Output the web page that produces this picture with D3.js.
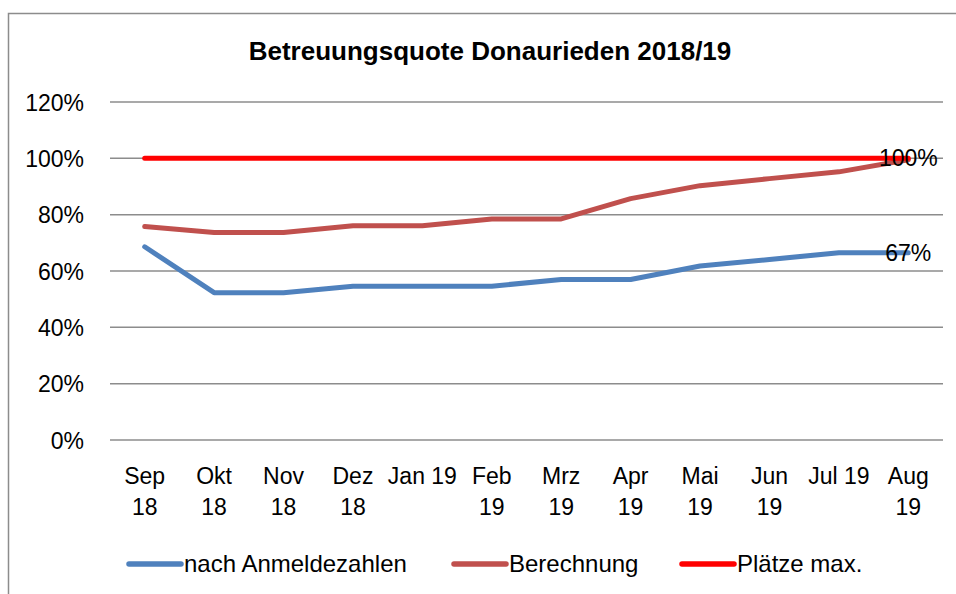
<!DOCTYPE html>
<html><head><meta charset="utf-8">
<script src="https://cdn.jsdelivr.net/npm/d3@7"></script>
<style>body{margin:0;background:#fff}svg{display:block}text{font-family:"Liberation Sans",Arial,sans-serif;fill:#000}</style>
</head><body><svg id="c" width="956" height="594"></svg>
<script>
const categories = ["Sep 18","Okt 18","Nov 18","Dez 18","Jan 19","Feb 19","Mrz 19","Apr 19","Mai 19","Jun 19","Jul 19","Aug 19"];
const anmeldezahlen = [0.686,0.523,0.523,0.546,0.546,0.546,0.570,0.570,0.618,0.641,0.665,0.665];
const berechnung = [0.758,0.737,0.737,0.761,0.761,0.785,0.785,0.857,0.903,0.928,0.952,0.995];
const plaetzeMax = [1,1,1,1,1,1,1,1,1,1,1,1];
const yTicks = [0,0.2,0.4,0.6,0.8,1.0,1.2];
const seriesNames = ["nach Anmeldezahlen","Berechnung","Plätze max."];
const colors = ["#4f81bd","#c0504d","#ff0000"];
const title = "Betreuungsquote Donaurieden 2018/19";

const svg = d3.select("#c");
svg.append("path").attr("d","M8.5,594 V13.5 H956").attr("fill","none").attr("stroke","#8c8c8c").attr("stroke-width",1.5);

const x = d3.scaleBand().domain(categories).range([110,943]);
const y = d3.scaleLinear().domain([0,1.2]).range([440,102]);

svg.append("text").attr("x",490).attr("y",60).attr("text-anchor","middle")
  .style("font-weight","bold").style("font-size","26px").text(title);

const grid = svg.append("g");
grid.selectAll("line").data(yTicks).join("line")
  .attr("x1",110).attr("x2",943).attr("y1",d=>y(d)).attr("y2",d=>y(d))
  .attr("stroke","#8c8c8c").attr("stroke-width",1.5);

const yAxis = svg.append("g").attr("transform","translate(110,0)")
  .call(d3.axisLeft(y).tickValues(yTicks).tickFormat(d3.format(".0%")).tickSize(0).tickPadding(26));
yAxis.select(".domain").remove();
yAxis.selectAll("text").style("font-size","23px").style("font-family","Liberation Sans, Arial, sans-serif").attr("dy","0.35em");

const xAxis = svg.append("g").attr("transform","translate(0,440)").call(d3.axisBottom(x).tickSize(0).tickFormat(""));
xAxis.select(".domain").remove();
xAxis.selectAll(".tick").each(function(d){
  const parts = d.split(" ");
  const g = d3.select(this);
  const lines = (d==="Jan 19"||d==="Jul 19") ? [d] : parts;
  g.selectAll("text.lbl").data(lines).join("text").attr("class","lbl")
   .attr("text-anchor","middle").attr("y",(t,i)=>44+i*31)
   .style("font-size","23px").text(t=>t);
});

const line = d3.line().x((d,i)=>x(categories[i])+x.bandwidth()/2).y(d=>y(d));
const allSeries = [anmeldezahlen,berechnung,plaetzeMax];
allSeries.forEach((s,k)=>{
  svg.append("path").datum(s).attr("d",line).attr("fill","none")
    .attr("stroke",colors[k]).attr("stroke-width",5).attr("stroke-linecap","round").attr("stroke-linejoin","round");
});
// data labels on last point
[[anmeldezahlen],[plaetzeMax]].forEach(([s])=>{
  const i=s.length-1;
  svg.append("text").attr("x",x(categories[i])+x.bandwidth()/2).attr("y",y(s[i])).attr("dy","0.35em")
    .attr("text-anchor","middle").style("font-size","23px").text(d3.format(".0%")(s[i]));
});

// legend
const legX = [127,452,680];
seriesNames.forEach((n,k)=>{
  const g = svg.append("g").attr("transform",`translate(${legX[k]},564)`);
  g.append("line").attr("x1",2).attr("x2",54).attr("stroke",colors[k]).attr("stroke-width",5.5).attr("stroke-linecap","round");
  g.append("text").attr("x",57).attr("dy","0.35em").style("font-size","24px").text(n);
});
</script></body></html>
